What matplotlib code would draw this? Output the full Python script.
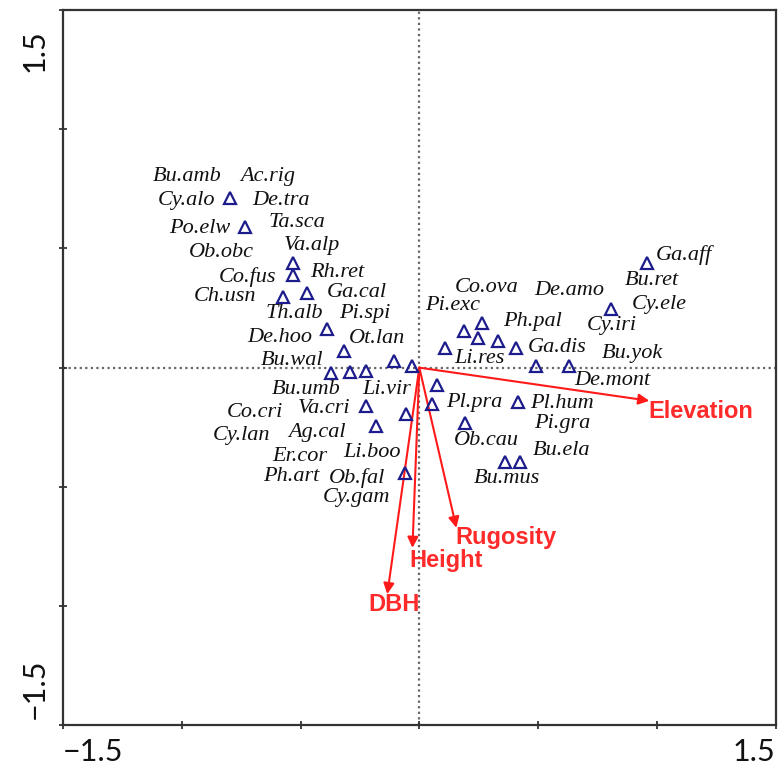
import matplotlib.pyplot as plt

# species scores (triangles)
pt_x = [-0.799, -0.736, -0.530, -0.530, -0.576, -0.475, -0.387, -0.316, -0.105, -0.029,
        -0.370, -0.290, -0.223, -0.223, -0.055, -0.181, -0.059,
        0.959, 0.808, 0.265, 0.189, 0.248, 0.332, 0.408, 0.109, 0.492, 0.631,
        0.076, 0.055, 0.416, 0.194, 0.362, 0.425]
pt_y = [0.710, 0.588, 0.441, 0.387, 0.298, 0.315, 0.164, 0.071, 0.029, 0.008,
        -0.021, -0.017, -0.013, -0.160, -0.193, -0.244, -0.441,
        0.441, 0.248, 0.189, 0.155, 0.126, 0.113, 0.084, 0.084, 0.008, 0.008,
        -0.071, -0.151, -0.143, -0.231, -0.395, -0.395]

# species names and where their labels sit
names = ["Bu.amb", "Ac.rig", "Cy.alo", "De.tra", "Po.elw", "Ta.sca", "Ob.obc", "Va.alp",
         "Co.fus", "Rh.ret", "Ch.usn", "Ga.cal", "Th.alb", "Pi.spi", "De.hoo", "Ot.lan",
         "Bu.wal", "Bu.umb", "Li.vir", "Co.cri", "Va.cri", "Cy.lan", "Ag.cal", "Er.cor",
         "Li.boo", "Ph.art", "Ob.fal", "Cy.gam",
         "Ga.aff", "Bu.ret", "Co.ova", "De.amo", "Cy.ele", "Pi.exc", "Ph.pal", "Cy.iri",
         "Ga.dis", "Li.res", "Bu.yok", "De.mont", "Pl.pra", "Pl.hum", "Pi.gra", "Ob.cau",
         "Bu.ela", "Bu.mus"]
lab_x = [-0.976, -0.639, -0.980, -0.581, -0.926, -0.517, -0.833, -0.450,
         -0.724, -0.345, -0.820, -0.265, -0.526, -0.231, -0.589, -0.177,
         -0.534, -0.475, -0.139, -0.694, -0.400, -0.749, -0.429, -0.505,
         -0.198, -0.538, -0.261, -0.265,
         1.115, 0.980, 0.282, 0.631, 1.010, 0.139, 0.475, 0.812,
         0.581, 0.252, 0.896, 0.812, 0.231, 0.602, 0.602, 0.282,
         0.597, 0.370]
lab_y = [0.803, 0.803, 0.702, 0.702, 0.584, 0.609, 0.483, 0.513,
         0.382, 0.399, 0.298, 0.315, 0.227, 0.227, 0.126, 0.122,
         0.029, -0.092, -0.092, -0.189, -0.172, -0.286, -0.273, -0.372,
         -0.357, -0.458, -0.462, -0.546,
         0.471, 0.366, 0.336, 0.324, 0.265, 0.261, 0.193, 0.176,
         0.084, 0.038, 0.059, -0.055, -0.147, -0.151, -0.235, -0.307,
         -0.349, -0.466]

# environmental variables (arrows)
env = ["Elevation", "DBH", "Height", "Rugosity"]
env_x = [0.968, -0.135, -0.029, 0.156]
env_y = [-0.139, -0.950, -0.756, -0.672]
env_lab_x = [1.186, -0.105, 0.114, 0.366]
env_lab_y = [-0.185, -0.992, -0.811, -0.714]

fig = plt.figure(figsize=(7.78, 7.74), dpi=100)
ax = fig.add_axes([0.081, 0.063, 0.916, 0.924])
ax.set_xlim(-1.5, 1.5)
ax.set_ylim(-1.5, 1.5)

ax.axhline(0, color="#666666", ls=(0, (1, 1.5)), lw=1.6, zorder=1)
ax.axvline(0, color="#666666", ls=(0, (1, 1.5)), lw=1.6, zorder=1)

for x, y in zip(env_x, env_y):
    ax.annotate("", xy=(x, y), xytext=(0, 0),
                arrowprops=dict(arrowstyle="-|>", color="#ff1a1a", lw=1.5,
                                mutation_scale=16, shrinkA=0, shrinkB=0),
                zorder=3)
for name, x, y in zip(env, env_lab_x, env_lab_y):
    ax.text(x, y, name, color="#ff2a2a", fontsize=17, fontweight="bold",
            family="Liberation Sans", ha="center", va="center", zorder=4)

ax.plot(pt_x, pt_y, ls="none", marker="^", ms=8, mfc="none", mec="#1c1c8c",
        mew=1.6, zorder=4)

for name, x, y in zip(names, lab_x, lab_y):
    ax.text(x, y, name, fontsize=16, style="italic", family="Liberation Serif",
            color="#111111", ha="center", va="center", zorder=5)

ticks = [-1.5, -1.0, -0.5, 0, 0.5, 1.0, 1.5]
ax.set_xticks(ticks)
ax.set_yticks(ticks)
ax.set_xticklabels([])
ax.set_yticklabels([])
ax.tick_params(direction="inout", length=6, width=1.2, color="#222222")
for s in ax.spines.values():
    s.set_linewidth(1.6)
    s.set_color("#333333")

tick_font = dict(fontsize=22, family="Lato", color="#111111")
ax.text(-1.5, -1.555, "\u22121.5", ha="left", va="top", **tick_font)
ax.text(1.5, -1.555, "1.5", ha="right", va="top", **tick_font)
ax.text(-1.56, 1.42, "1.5", ha="right", va="top", rotation=90, **tick_font)
ax.text(-1.56, -1.22, "\u22121.5", ha="right", va="top", rotation=90, **tick_font)

fig.savefig("out.png", dpi=100)
